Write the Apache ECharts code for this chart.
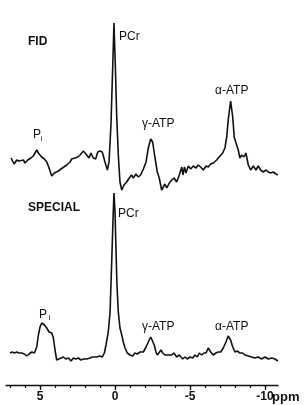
<!DOCTYPE html>
<html>
<head>
<meta charset="utf-8">
<script src="https://cdn.jsdelivr.net/npm/echarts@6/dist/echarts.min.js"></script>
<style>
  html, body { margin: 0; padding: 0; background: #fff; }
  #chart { width: 305px; height: 405px; }
</style>
</head>
<body>
<div id="chart"></div>
<script>
// 31P 谱 (ppm), 强度为任意单位, 基线 = 0
const fidPpm = [6.93, 6.73, 6.55, 6.40, 6.27, 6.11, 6.00, 5.82, 5.60, 5.45,
  5.22, 5.11, 5.00, 4.89, 4.71, 4.55, 4.40, 4.22, 4.05, 3.78,
  3.51, 3.22, 3.00, 2.89, 2.67, 2.49, 2.33, 2.11, 2.00, 1.89,
  1.73, 1.60, 1.45, 1.29, 1.15, 1.00, 0.85, 0.67, 0.51, 0.40,
  0.27, 0.15, 0.07, -0.02, -0.11, -0.22, -0.33, -0.45, -0.60, -0.78,
  -0.95, -1.11, -1.22, -1.40, -1.55, -1.71, -1.89, -2.07, -2.22, -2.38,
  -2.51, -2.67, -2.82, -2.95, -3.11, -3.22, -3.33, -3.45, -3.62, -3.78,
  -3.93, -4.11, -4.29, -4.45, -4.53, -4.63, -4.73, -4.89, -5.05, -5.22,
  -5.40, -5.55, -5.71, -5.89, -6.07, -6.22, -6.38, -6.55, -6.78, -6.95,
  -7.18, -7.33, -7.45, -7.55, -7.71, -7.85, -7.95, -8.07, -8.22, -8.33,
  -8.45, -8.60, -8.73, -8.89, -9.05, -9.22, -9.40, -9.55, -9.71, -9.89,
  -10.07, -10.22, -10.38, -10.55, -10.73, -10.86];
const fidInt = [7, 1, 5, 4, 3, 5, 2, 5, 7, 9,
  15, 12, 13, 8, 6, 3, -3, -11, -8, -6,
  -3, 0, 3, 6, 7, 8, 10, 14, 13, 10,
  7, 12, 7, 6, 13, 14, 13, 3, -5, 3,
  40, 100, 142, 100, 50, 10, -17, -25, -20, -17,
  -13, -10, -13, -9, -12, -10, -4, 3, 17, 26,
  23, 7, -7, -13, -25, -22, -19, -23, -18, -15,
  -13, -17, -10, -2, -10, -2, -8, -1, -4, -1,
  -3, 0, -2, -5, -1, -2, 1, 2, 5, 8,
  12, 17, 28, 45, 64, 48, 28, 22, 15, 7,
  10, 8, 12, 0, -5, -1, -5, -1, -5, -7,
  -5, -7, -8, -7, -9, -10];

const spPpm = [7.00, 6.85, 6.71, 6.55, 6.40, 6.22, 6.05, 5.89, 5.73, 5.55,
  5.38, 5.22, 5.11, 5.00, 4.89, 4.71, 4.55, 4.40, 4.22, 4.11,
  4.00, 3.89, 3.78, 3.60, 3.45, 3.29, 3.11, 2.93, 2.78, 2.62,
  2.45, 2.27, 2.11, 1.89, 1.67, 1.51, 1.38, 1.22, 1.00, 0.85,
  0.71, 0.60, 0.45, 0.33, 0.27, 0.20, 0.13, 0.07, 0.00, -0.07,
  -0.13, -0.22, -0.33, -0.45, -0.55, -0.67, -0.82, -1.00, -1.18, -1.33,
  -1.49, -1.67, -1.78, -1.89, -2.07, -2.22, -2.38, -2.51, -2.62, -2.73,
  -2.82, -2.95, -3.07, -3.18, -3.33, -3.45, -3.62, -3.78, -3.93, -4.11,
  -4.29, -4.51, -4.67, -4.82, -5.00, -5.18, -5.33, -5.49, -5.62, -5.78,
  -5.93, -6.07, -6.22, -6.38, -6.55, -6.73, -6.89, -7.05, -7.22, -7.40,
  -7.55, -7.71, -7.85, -8.00, -8.15, -8.33, -8.51, -8.67, -8.89, -9.11,
  -9.33, -9.55, -9.78, -10.00, -10.22, -10.45, -10.67, -10.86];
const spInt = [4, 5, 4, 5, 4, 4, 3, 1, 3, 5,
  4, 10, 22, 30, 34, 32, 29, 25, 24, 19,
  7, -3, -5, -1, 0, -2, -1, -4, -1, -2,
  -1, -3, -2, -2, -1, 0, -1, 0, 1, 0,
  4, 12, 25, 45, 72, 105, 139, 164, 145, 105,
  72, 45, 29, 22, 15, 9, 4, 2, 1, 4,
  3, 5, 7, 5, 10, 15, 20, 19, 12, 5,
  2, 4, 7, 4, 2, 4, 2, 2, 4, 0,
  2, -2, 0, -2, 0, -1, 2, 0, 4, 2,
  4, 4, 9, 5, 2, 4, 5, 5, 9, 15,
  21, 17, 10, 5, 6, 4, 4, 2, 1, 0,
  -1, 0, -2, 0, -2, -1, -2, -4];

const minorTicks = [-10, -9, -8, -7, -6, -5, -4, -3, -2, -1, 0, 1, 2, 3, 4, 5, 6, 7];
const majorTicks = [-10, -5, 0, 5];

const FONT = '"Liberation Sans", Arial, sans-serif';

const zip = (xs, ys) => xs.map((x, i) => [x, ys[i]]);

const myChart = echarts.init(document.getElementById('chart'));

// 文字标注
const txt = (x, y, text, size, bold) => ({
  type: 'text',
  x: x,
  y: y,
  style: {
    text: text,
    fill: '#111',
    font: (bold ? 'bold ' : '') + size + 'px ' + FONT,
    verticalAlign: 'middle'
  }
});

const xBase = {
  type: 'value',
  inverse: true,
  min: -10.87,
  max: 7.27,
  position: 'bottom',
  splitLine: { show: false }
};

myChart.setOption({
  animation: false,
  backgroundColor: '#fff',
  grid: { left: 6, right: 27, top: 0, bottom: 20 },
  xAxis: [
    Object.assign({}, xBase, {
      axisLine: { show: true, onZero: false, lineStyle: { color: '#111', width: 1.3 } },
      axisTick: { show: true, customValues: minorTicks, length: 3, lineStyle: { color: '#111', width: 1.2 } },
      axisLabel: { show: false }
    }),
    Object.assign({}, xBase, {
      axisLine: { show: false, onZero: false },
      axisTick: { show: true, customValues: majorTicks, length: 5, lineStyle: { color: '#111', width: 1.3 } },
      axisLabel: {
        show: true,
        customValues: majorTicks,
        margin: 6,
        color: '#111',
        fontFamily: FONT,
        fontWeight: 'bold',
        fontSize: 12
      }
    })
  ],
  yAxis: [
    { type: 'value', show: false, min: -28, max: 357 },  // SPECIAL
    { type: 'value', show: false, min: -220, max: 165 }  // FID
  ],
  series: [
    {
      name: 'FID',
      type: 'line',
      xAxisIndex: 0,
      yAxisIndex: 1,
      data: zip(fidPpm, fidInt),
      showSymbol: false,
      clip: false,
      lineStyle: { color: '#111', width: 1.6 }
    },
    {
      name: 'SPECIAL',
      type: 'line',
      xAxisIndex: 0,
      yAxisIndex: 0,
      data: zip(spPpm, spInt),
      showSymbol: false,
      clip: false,
      lineStyle: { color: '#111', width: 1.6 }
    }
  ],
  graphic: [
    txt(28, 42, 'FID', 12, true),
    txt(119, 37, 'PCr', 12),
    txt(33, 135, 'P', 12),
    txt(40.5, 139, 'i', 8),
    txt(142, 124, 'γ-ATP', 12),
    txt(215, 91, 'α-ATP', 12),
    txt(28, 208, 'SPECIAL', 12, true),
    txt(118, 214, 'PCr', 12),
    txt(39, 314.5, 'P', 12),
    txt(48.5, 318, 'i', 8),
    txt(142, 327, 'γ-ATP', 12),
    txt(215, 327, 'α-ATP', 12),
    txt(272, 397, 'ppm', 13, true)
  ]
});
</script>
</body>
</html>
